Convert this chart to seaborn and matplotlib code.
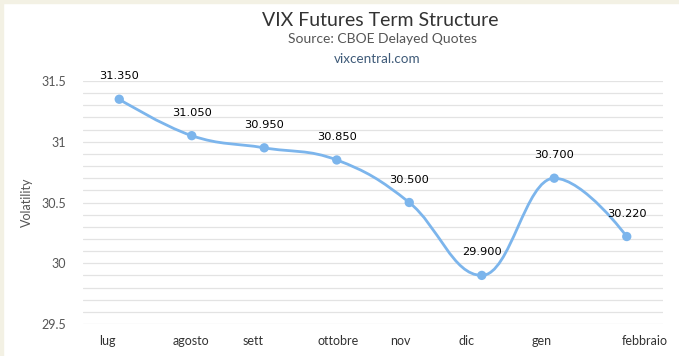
import numpy as np
import pandas as pd
import matplotlib
matplotlib.use("Agg")
import matplotlib.pyplot as plt
from matplotlib.path import Path
from matplotlib.patches import PathPatch, Rectangle
from matplotlib.transforms import ScaledTranslation
import seaborn as sns

months = ["lug", "agosto", "sett", "ottobre", "nov", "dic", "gen", "febbraio"]
volatility = [31.35, 31.05, 30.95, 30.85, 30.50, 29.90, 30.70, 30.22]
y_ticks = [29.5, 30, 30.5, 31, 31.5]
y_tick_labels = ["29.5", "30", "30.5", "31", "31.5"]

line_color = "#7cb5ec"


def spline_path(xs, ys, smoothing=1.5):
    # highcharts style spline: bezier segments with collinear control points
    n = len(xs)
    left = [(xs[i], ys[i]) for i in range(n)]
    right = [(xs[i], ys[i]) for i in range(n)]
    denom = smoothing + 1
    for i in range(1, n - 1):
        x, y = xs[i], ys[i]
        lx, ly = xs[i - 1], ys[i - 1]
        nx, ny = xs[i + 1], ys[i + 1]
        lcx = (smoothing * x + lx) / denom
        lcy = (smoothing * y + ly) / denom
        rcx = (smoothing * x + nx) / denom
        rcy = (smoothing * y + ny) / denom
        if rcx != lcx:
            corr = (rcy - lcy) * (rcx - x) / (rcx - lcx) + y - rcy
            lcy += corr
            rcy += corr
            if lcy > ly and lcy > y:
                lcy = max(ly, y)
                rcy = 2 * y - lcy
            elif lcy < ly and lcy < y:
                lcy = min(ly, y)
                rcy = 2 * y - lcy
            if rcy > ny and rcy > y:
                rcy = max(ny, y)
                lcy = 2 * y - rcy
            elif rcy < ny and rcy < y:
                rcy = min(ny, y)
                lcy = 2 * y - rcy
        left[i] = (lcx, lcy)
        right[i] = (rcx, rcy)
    verts = [(xs[0], ys[0])]
    codes = [Path.MOVETO]
    for i in range(1, n):
        verts += [right[i - 1], left[i], (xs[i], ys[i])]
        codes += [Path.CURVE4] * 3
    return Path(verts, codes)


df = pd.DataFrame({"month": months, "vol": volatility})
df["pos"] = np.arange(len(months))

sns.set_style("white")
plt.rcParams["font.family"] = ["Lato", "DejaVu Sans"]

fig = plt.figure(figsize=(6.79, 3.56), dpi=100)
fig.patch.set_facecolor("white")
# beige page border on top and left
fig.patches.append(Rectangle((0, 1 - 3 / 356), 1, 3 / 356, transform=fig.transFigure,
                             color="#f3f1e4", zorder=0))
fig.patches.append(Rectangle((0, 0), 3 / 679, 1, transform=fig.transFigure,
                             color="#f3f1e4", zorder=0))

ax = fig.add_axes([83 / 679, 32 / 356, 580 / 679, 243 / 356])

ax.add_patch(PathPatch(spline_path(list(df["pos"]), list(df["vol"])), facecolor="none",
                       edgecolor=line_color, lw=2, zorder=3))
sns.scatterplot(data=df, x="pos", y="vol", color=line_color, s=45, edgecolor="none",
                zorder=4, ax=ax, legend=False)

for p, v in zip(df["pos"], df["vol"]):
    ax.annotate(f"{v:.3f}", (p, v), xytext=(0, 16.5), textcoords="offset points",
                ha="center", va="center", fontsize=8.2, color="black",
                family=["DejaVu Sans"], zorder=5)

ax.set_xlim(-0.5, len(months) - 0.5)
ax.set_ylim(29.5, 31.5)
ax.set_yticks(y_ticks)
ax.set_yticklabels(y_tick_labels)
ax.set_yticks(np.round(np.arange(29.5, 31.51, 0.1), 2), minor=True)
ax.set_xticks(df["pos"])
ax.set_xticklabels(months)
ax.grid(True, which="both", axis="y", color="#e3e3e3", lw=0.9)
ax.set_axisbelow(True)
for s in ax.spines.values():
    s.set_visible(False)
ax.tick_params(axis="y", which="both", length=0, pad=12, labelsize=9, labelcolor="#555555")
ax.tick_params(axis="x", length=0, pad=8, labelsize=9, labelcolor="#333333")

# category labels in the reference sit a little off their points
label_shift_px = [-12, -1, -11, 1, -9, -15, -13, 18]
for lab, dx in zip(ax.get_xticklabels(), label_shift_px):
    lab.set_transform(lab.get_transform() + ScaledTranslation(dx / 100, 0, fig.dpi_scale_trans))

ax.set_xlabel("")
ax.set_ylabel("Volatility", fontsize=9, color="#555555", labelpad=6)

fig.text(380 / 679, 1 - 20 / 356, "VIX Futures Term Structure", ha="center", va="center",
         fontsize=14, color="#333333")
fig.text(382 / 679, 1 - 39 / 356, "Source: CBOE Delayed Quotes", ha="center", va="center",
         fontsize=10, color="#555555")
fig.text(377 / 679, 1 - 59 / 356, "vixcentral.com", ha="center", va="center",
         fontsize=9.7, color="#3e5a78")

fig.savefig("out.png", dpi=100)
